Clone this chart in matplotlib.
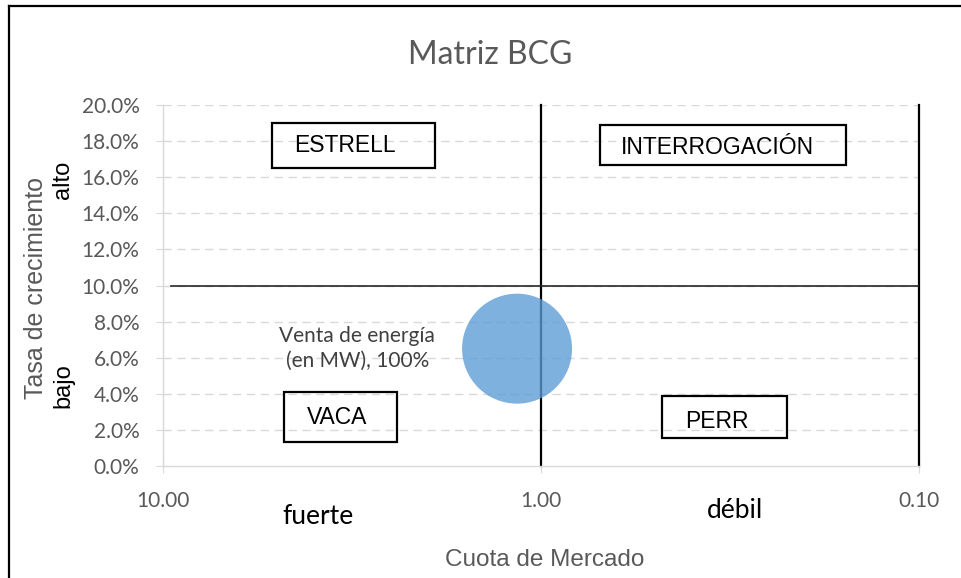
"""
Matriz BCG - bubble chart recreation
"""

import matplotlib

matplotlib.use("Agg")
import matplotlib.pyplot as plt
from matplotlib.patches import Rectangle
from matplotlib.lines import Line2D
from matplotlib.ticker import FuncFormatter, FixedLocator, NullLocator

# data
bubble_x = [1.157]
bubble_y = [0.065]
bubble_label = ["Venta de energía\n(en MW), 100%"]
y_ticks = [0.0, 0.02, 0.04, 0.06, 0.08, 0.10, 0.12, 0.14, 0.16, 0.18, 0.20]
x_ticks = [10.0, 1.0, 0.1]
# quadrant dividers
div_x = [1.0, 0.1]
div_y = 0.10
div_y_span = (9.5, 0.1)
quadrants = ["ESTRELL", "INTERROGACIÓN", "VACA", "PERR"]

W, H = 961, 578
GRAY = "#595959"
CAL = ["Lato", "DejaVu Sans"]
ARIAL = ["Liberation Sans", "DejaVu Sans"]


def fx(px):
    return px / W


def fy(py):
    return 1 - py / H


fig = plt.figure(figsize=(W / 100, H / 100), dpi=100)
ax = fig.add_axes([fx(163), fy(466), fx(919) - fx(163), fy(105) - fy(466)])

ax.set_xscale("log")
ax.set_xlim(10, 0.1)
ax.set_ylim(0, 0.2)

# gridlines
for v in y_ticks[1:]:
    ax.axhline(v, color="#d9d9d9", lw=1, ls=(0, (6, 4)), zorder=0)

# quadrant lines
for v in div_x:
    ax.plot([v, v], [0, 0.2], color="black", lw=1.6, zorder=2, clip_on=False)
ax.plot(div_y_span, [div_y, div_y], color="#262626", lw=1.2, zorder=2)

# bubble + data label to its left
ax.scatter(bubble_x, bubble_y, s=6270, color="#5b9bd5", alpha=0.78,
           edgecolors="none", zorder=3)
ax.annotate(bubble_label[0], xy=(bubble_x[0], bubble_y[0]), xytext=(-115, 0),
            textcoords="offset points", ha="center", va="center",
            fontsize=15, color="#404040", family=CAL, linespacing=1.3)

# axes styling
for s in ["top", "right"]:
    ax.spines[s].set_visible(False)
for s in ["left", "bottom"]:
    ax.spines[s].set_color("#d9d9d9")
    ax.spines[s].set_linewidth(1)
ax.yaxis.set_major_locator(FixedLocator(y_ticks))
ax.yaxis.set_major_formatter(FuncFormatter(lambda v, p: f"{v * 100:.1f}%"))
ax.xaxis.set_major_locator(FixedLocator(x_ticks))
ax.xaxis.set_minor_locator(NullLocator())
ax.xaxis.set_major_formatter(FuncFormatter(lambda v, p: f"{v:.2f}"))
ax.tick_params(axis="y", direction="inout", length=10, color="#d9d9d9",
               labelsize=15, labelcolor=GRAY, pad=12)
ax.tick_params(axis="x", direction="inout", length=10, color="#d9d9d9",
               labelsize=15, labelcolor=GRAY, pad=13)
for lab in ax.get_xticklabels() + ax.get_yticklabels():
    lab.set_family(CAL)

# quadrant boxes (pixel layout)
boxes = [
    (272, 123, 435, 168, 294, 146),
    (600, 125, 846, 165, 621, 148),
    (284, 392, 397, 442, 307, 417),
    (662, 396, 787, 438, 685, 421),
]
for name, (x0, y0, x1, y1, tx, ty) in zip(quadrants, boxes):
    fig.patches.append(Rectangle((fx(x0), fy(y1)), fx(x1) - fx(x0), fy(y0) - fy(y1),
                                 transform=fig.transFigure, fill=False,
                                 edgecolor="black", lw=1.6, zorder=5))
    fig.text(fx(tx), fy(ty), name, ha="left", va="center", fontsize=16.5,
             color="black", family=ARIAL, zorder=6)

# titles and labels
fig.text(fx(490), fy(55), "Matriz BCG", ha="center", va="center",
         fontsize=23, color=GRAY, family=CAL)
fig.text(fx(36), fy(288), "Tasa de crecimiento", ha="center", va="center",
         rotation=90, fontsize=18, color=GRAY, family=ARIAL)
fig.text(fx(63), fy(180), "alto", ha="center", va="center", rotation=90,
         fontsize=17, color="black", family=ARIAL)
fig.text(fx(63), fy(386), "bajo", ha="center", va="center", rotation=90,
         fontsize=17, color="black", family=ARIAL)
fig.text(fx(545), fy(560), "Cuota de Mercado", ha="center", va="center",
         fontsize=17.5, color=GRAY, family=ARIAL)
fig.text(fx(318), fy(517), "fuerte", ha="center", va="center",
         fontsize=19, color="black", family=CAL)
fig.text(fx(735), fy(511), "débil", ha="center", va="center",
         fontsize=19, color="black", family=CAL)

# outer border (left and top only visible)
fig.lines.append(Line2D([fx(9), fx(9)], [0, fy(6)], transform=fig.transFigure,
                        color="black", lw=1.6))
fig.lines.append(Line2D([fx(9), 1], [fy(6), fy(6)], transform=fig.transFigure,
                        color="black", lw=1.6))

fig.savefig("out.png", dpi=100)
